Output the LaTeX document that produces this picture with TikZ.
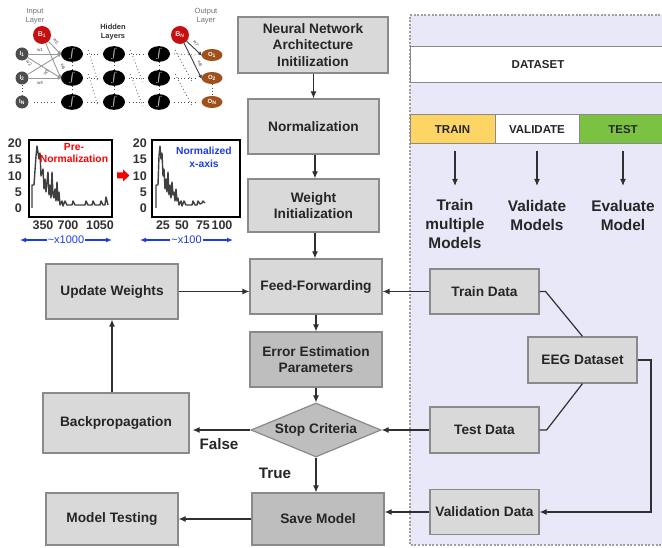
\documentclass[tikz,border=0pt]{standalone}
\usepackage{fontspec}
\setmainfont{Liberation Sans}
\usetikzlibrary{arrows.meta,shapes.geometric}

\definecolor{boxfill}{HTML}{D9D9D9}
\definecolor{boxdark}{HTML}{BEBEBE}
\definecolor{boxline}{HTML}{8A8A8A}
\definecolor{panelfill}{HTML}{E8E8F8}
\definecolor{trainyel}{HTML}{FDD565}
\definecolor{testgrn}{HTML}{7CC242}
\definecolor{linkcol}{HTML}{303030}
\definecolor{biasred}{HTML}{C41010}
\definecolor{outbrown}{HTML}{A0501A}
\definecolor{inpgray}{HTML}{4D4D4D}
\definecolor{plotline}{HTML}{404040}
\definecolor{axisblue}{HTML}{1E3CE6}

\tikzset{
  flowbox/.style={draw=boxline, line width=1.2pt, fill=boxfill, inner sep=0pt,
    align=center, text=black!85, font=\fontsize{13.7}{16.5}\selectfont\bfseries},
  darkbox/.style={flowbox, fill=boxdark},
  link/.style={draw=linkcol, line width=1.2pt},
  arr/.style={link, -{Latex[length=7pt,width=6pt]}},
  splitbox/.style={draw=boxline, line width=1pt, inner sep=0pt,
    font=\fontsize{11.5}{12}\selectfont\bfseries, text=black!85},
  panellabel/.style={align=center, text=black!85,
    font=\fontsize{15.4}{19}\selectfont\bfseries},
  edgelabel/.style={text=black!85, font=\fontsize{15.2}{16}\selectfont\bfseries},
  % neural-network sketch
  biascirc/.style={circle, fill=biasred, minimum size=18pt, inner sep=0pt,
    text=red!15!white, font=\fontsize{7}{7}\selectfont\bfseries},
  inpnode/.style={circle, fill=inpgray, minimum size=13pt, inner sep=0pt,
    text=white, font=\fontsize{6}{6}\selectfont\bfseries},
  hidnode/.style={ellipse, fill=black, minimum width=22pt, minimum height=13pt,
    inner sep=0pt, text=white, font=\fontsize{7}{7}\selectfont},
  outnode/.style={ellipse, fill=outbrown, minimum width=21pt, minimum height=12pt,
    inner sep=0pt, text=white, font=\fontsize{6}{6}\selectfont\bfseries},
  nnline/.style={draw=gray!80, line width=0.9pt},
  nnarr/.style={nnline, -{Latex[length=4pt,width=4pt]}, shorten >=-1pt},
  wlabel/.style={text=black!70, inner sep=0pt, font=\fontsize{4.6}{4.6}\selectfont},
  dotline/.style={draw=black!70, line width=0.8pt, dash pattern=on 0.8pt off 2.6pt},
  layertext/.style={align=center, text=black!55, font=\fontsize{7.5}{9}\selectfont},
  % histograms
  plotframe/.style={draw=black, line width=1.3pt, fill=white},
  plotcurve/.style={draw=plotline, line width=1.4pt, line join=round},
  ticklab/.style={inner sep=0pt, text=black!80, font=\fontsize{12.5}{13}\selectfont\bfseries},
  plottitle/.style={align=center, inner sep=0pt, font=\fontsize{10.3}{12.5}\selectfont\bfseries},
  scalearr/.style={draw=axisblue, line width=1.3pt, {Latex[length=6pt,width=5pt]}-{Latex[length=6pt,width=5pt]}},
  scalelab/.style={fill=white, inner sep=1pt, text=axisblue, font=\fontsize{11}{12}\selectfont},
}

\begin{document}
\begin{tikzpicture}[x=1pt,y=-1pt]
\useasboundingbox (0,0) rectangle (662,548);
\clip (0,0) rectangle (662,548);
\fill[white] (0,0) rectangle (662,548);

% ---------------- dataset panel (runs past the right edge) ----------------
\fill[panelfill] (410,15) rectangle (700,545);
\draw[draw=gray!75, line width=1.2pt, dash pattern=on 2pt off 1.6pt]
  (700,15) -- (410,15) -- (410,545) -- (700,545);
\node[splitbox, fill=white, minimum width=256pt, minimum height=36pt] (dataset) at (538,65) {DATASET};
\node[splitbox, fill=trainyel, minimum width=85pt, minimum height=29pt] (train) at (452.5,129.5) {TRAIN};
\node[splitbox, fill=white, minimum width=84pt, minimum height=29pt] (validate) at (537,129.5) {VALIDATE};
\node[splitbox, fill=testgrn, minimum width=88pt, minimum height=29pt] (test) at (623,129.5) {TEST};

\node[panellabel] (trainm) at (455,224) {Train\\multiple\\Models};
\node[panellabel] (valm) at (537,215) {Validate\\Models};
\node[panellabel] (evalm) at (623,215) {Evaluate\\Model};
\coordinate (ta) at (455,151);
\coordinate (va) at (537,151);
\coordinate (tt) at (623,151);
\draw[arr] (ta) -- (455,186);
\draw[arr] (va) -- (537,186);
\draw[arr] (tt) -- (623,186);

\node[flowbox, minimum width=109pt, minimum height=45pt] (traind) at (484.5,291.5) {Train Data};
\node[flowbox, minimum width=109pt, minimum height=46pt] (eeg) at (582.5,360) {EEG Dataset};
\node[flowbox, minimum width=109pt, minimum height=46pt] (testd) at (484.5,430) {Test Data};
\node[flowbox, minimum width=109pt, minimum height=45pt] (vald) at (484.5,512) {Validation Data};

\draw[link] (traind.east) -- ++(6,0) -- (eeg.north);
\draw[link] (testd.east) -- ++(7,0) -- (eeg.south);
\draw[arr] (eeg.east) -- (651,360) -- (651,512) -- (vald.east);

% ---------------- main training loop ----------------
\node[flowbox, minimum width=150pt, minimum height=56pt] (arch) at (313,45)
  {Neural Network\\Architecture\\Initilization};
\node[flowbox, minimum width=131pt, minimum height=55pt] (norm) at (313.5,126.5) {Normalization};
\node[flowbox, minimum width=131pt, minimum height=53pt] (winit) at (313.5,205.5) {Weight\\Initialization};
\node[flowbox, minimum width=132pt, minimum height=55pt] (ff) at (316,286.5) {Feed-Forwarding};
\node[darkbox, minimum width=132pt, minimum height=55pt] (err) at (316,359.5) {Error Estimation\\Parameters};
\node[darkbox, shape=diamond, aspect=2.4, minimum width=130pt, minimum height=54pt] (stop) at (316,430) {Stop Criteria};
\node[darkbox, minimum width=132pt, minimum height=52pt] (save) at (318,519) {Save Model};
\node[flowbox, minimum width=132pt, minimum height=52pt] (mtest) at (112,519) {Model Testing};
\node[flowbox, minimum width=146pt, minimum height=60pt] (back) at (116,423) {Backpropagation};
\node[flowbox, minimum width=132pt, minimum height=55pt] (upd) at (112,291.5) {Update Weights};

\draw[arr] (arch.south -| norm) -- (norm.north);
\draw[arr] (norm.south -| 315,0) -- (315,0 |- winit.north);
\draw[arr] (winit.south -| 315,0) -- (315,0 |- ff.north);
\draw[arr] (ff) -- (err);
\draw[arr] (err) -- (stop);
\draw[arr] (stop.south) -- (save.north -| stop.south);
\draw[arr] (stop.west) -- ([xshift=3pt]stop.west -| back.east);
\draw[arr] (back.north -| upd.south) -- (upd.south);
\draw[arr] (upd.east) -- (upd.east -| ff.west);
\draw[arr] (traind.west) -- (traind.west -| ff.east);
\draw[arr] (testd.west) -- (stop.east);
\draw[arr] (vald.west) -- (vald.west -| save.east);
\draw[arr] (save.west) -- (save.west -| mtest.east);
\node[edgelabel] (false) at (219,444) {False};
\node[edgelabel] (true) at (275,473) {True};

% ---------------- histograms ----------------
\draw[plotframe] (29,140) rectangle (112,217);
\draw[plotframe] (152,140) rectangle (240,217);
\draw[plotcurve] (32,208) -- (32,185) -- (34,185) -- (36,156) -- (37,146) -- (39,159) -- (40,153)
  -- (41,176) -- (43,169) -- (44,189) -- (45,179) -- (46,192) -- (48,172) -- (49,195) -- (50,185)
  -- (51,198) -- (52,172) -- (53,195) -- (54,198) -- (55,189) -- (56,201) -- (57,182) -- (58,201)
  -- (59,192) -- (60,205) -- (62,201) -- (63,206) -- (65,201) -- (67,205) -- (72,205) -- (73,201)
  -- (75,205) -- (85,205) -- (86,201) -- (88,205) -- (92,205) -- (93,201) -- (95,205) -- (100,205)
  -- (101,201) -- (103,205) -- (105,205) -- (106,197) -- (108,205);
\draw[plotcurve] (156,208) -- (156,185) -- (158,185) -- (159,156) -- (160,146) -- (161,159)
  -- (162,153) -- (163,176) -- (164,169) -- (165,189) -- (166,179) -- (167,192) -- (168,172)
  -- (169,195) -- (170,185) -- (171,198) -- (172,182) -- (173,195) -- (174,192) -- (175,201)
  -- (176,189) -- (177,201) -- (178,198) -- (179,205) -- (181,201) -- (182,206) -- (184,201)
  -- (186,205) -- (192,205) -- (193,201) -- (195,205) -- (197,205) -- (198,201) -- (200,204)
  -- (202,203) -- (203,201) -- (205,203);

\foreach \v/\y in {20/143,15/159.5,10/176,5/192,0/208} {
  \node[ticklab, anchor=east] (ly\v) at (22,\y) {\v};
  \node[ticklab, anchor=east] (ry\v) at (147,\y) {\v};
}
\foreach \v/\x in {350/43,700/68,1050/100} \node[ticklab] (lx\v) at (\x,225) {\v};
\foreach \v/\x in {25/163,50/182,75/203,100/222} \node[ticklab] (rx\v) at (\x,225) {\v};

\node[plottitle, text=red] (pretitle) at (74,153) {Pre-\\Normalization};
\node[plottitle, text=axisblue] (normtitle) at (204,157.5) {Normalized\\x-axis};

\draw[scalearr] (20,240) -- (112,240) node[scalelab, pos=0.5] (lscale) {\textasciitilde x1000};
\draw[scalearr] (140,240) -- (233,240) node[scalelab, pos=0.5] (rscale) {\textasciitilde x100};
\fill[red!95!black] (117,172.5) -- (123,172.5) -- (123,169.5) -- (129.5,175.5) -- (123,181.5)
  -- (123,178.5) -- (117,178.5) -- cycle;

% ---------------- neural network sketch ----------------
\node[layertext] (inlayer) at (35,16.5) {Input\\Layer};
\node[layertext, text=black!80, font=\fontsize{7.5}{9.5}\selectfont\bfseries] (hidlayer) at (113,32) {Hidden\\Layers};
\node[layertext] (outlayer) at (206,16.5) {Output\\Layer};

\foreach \c/\x in {1/72,2/114,3/159} {
  \foreach \r/\y in {1/54,2/78,3/102} {
    \node[hidnode] (h\r\c) at (\x,\y) {$\int$};
  }
}
\node[inpnode] (i1) at (22,54) {I\textsubscript{1}};
\node[inpnode] (i2) at (22,78) {I\textsubscript{2}};
\node[inpnode] (i3) at (22,102) {I\textsubscript{N}};
\node[outnode] (o1) at (212,55) {O\textsubscript{1}};
\node[outnode] (o2) at (212,78) {O\textsubscript{2}};
\node[outnode] (o3) at (212,102) {O\textsubscript{N}};
\node[biascirc] (b1) at (42,35) {B\textsubscript{1}};
\node[biascirc] (bN) at (180,35) {B\textsubscript{N}};

\draw[nnarr] (i1) -- (h11.west);
\draw[nnarr] (i1) -- (h21.west);
\draw[nnarr] (i2) -- (h11.west);
\draw[nnarr] (i2) -- (h21.west);
\draw[nnarr] (b1) -- (h11.west);
\draw[nnarr] (b1) -- (h21.west);
\draw[nnarr, draw=black!75] (bN) -- (o1.west);
\draw[nnarr, draw=black!75] (bN) -- (o2.west);

\node[wlabel] (w1) at (40,49.5) {w1};
\node[wlabel, rotate=-50] (w2) at (29,63) {w2};
\node[wlabel, rotate=50] (w3) at (46,72.5) {w3};
\node[wlabel] (w4) at (40,83) {w4};
\node[wlabel, rotate=-60] (w5) at (56,41) {w5};
\node[wlabel, rotate=-70] (w6) at (63,67) {w6};
\node[wlabel, rotate=-60] (w7) at (196,43) {w7};
\node[wlabel, rotate=-70] (w8) at (200,64) {w8};

\foreach \r in {1,2,3} {
  \draw[dotline] ([xshift=4pt]h\r1.east) -- ([xshift=-4pt]h\r2.west);
  \draw[dotline] ([xshift=4pt]h\r2.east) -- ([xshift=-4pt]h\r3.west);
}
\draw[dotline] ([xshift=4pt]h13.east) -- ([xshift=-4pt]o1.west);
\draw[dotline] ([xshift=4pt]h23.east) -- ([xshift=-6pt]o2.west);
\draw[dotline] ([xshift=4pt]h33.east) -- ([xshift=-4pt]o3.west);
\draw[dotline] ([xshift=5pt]i3.east) -- ([xshift=-5pt]h31.west);
\foreach \a/\b in {1/2,2/3} {
  \draw[dotline] ([shift={(5pt,4pt)}]h\a1.east) -- ([shift={(-5pt,-4pt)}]h\b2.west);
  \draw[dotline] ([shift={(5pt,4pt)}]h\a2.east) -- ([shift={(-5pt,-4pt)}]h\b3.west);
  \draw[dotline] ([shift={(5pt,4pt)}]h\a3.east) -- ([shift={(-9pt,-4pt)}]o\b.west);
}
\foreach \c in {1,2,3} {
  \draw[dotline] (h1\c.south) -- (h2\c.north);
  \draw[dotline] (h2\c.south) -- (h3\c.north);
}
\draw[dotline] (i2.south) -- (i3.north);
\draw[dotline] (o2.south) -- (o3.north);
\end{tikzpicture}
\end{document}
